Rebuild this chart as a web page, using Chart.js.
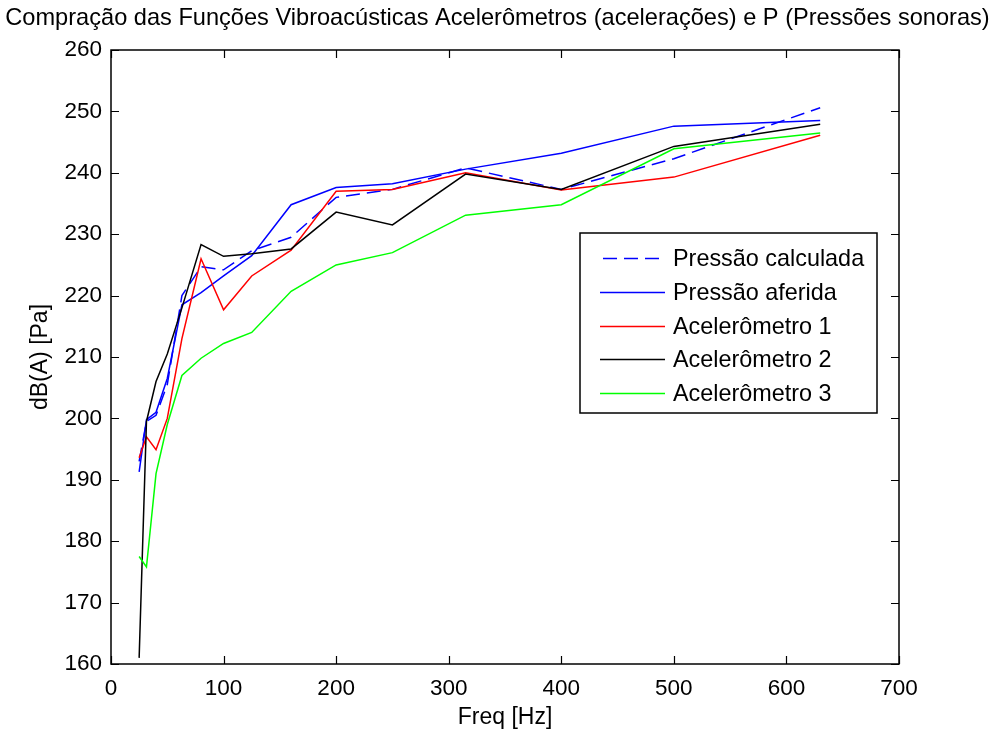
<!DOCTYPE html>
<html>
<head>
<meta charset="utf-8">
<script src="https://cdn.jsdelivr.net/npm/chart.js@4/dist/chart.umd.min.js"></script>
<style>
  html, body { margin: 0; padding: 0; background: #fff; }
  #wrap { width: 995px; height: 731px; }
</style>
</head>
<body>
<div id="wrap"><canvas id="myChart" width="995" height="731"></canvas></div>
<script>
// 1/3 octave band centre frequencies (Hz)
var freqs = [25, 31.5, 40, 50, 63, 80, 100, 125, 160, 200, 250, 315, 400, 500, 630];

// levels in dB(A)
var pressaoCalc = [193, 199.5, 200.5, 205.5, 220, 224.7, 224.2, 227.3, 229.5, 236, 237.3, 240.8, 237.3, 242.3, 250.6];
var pressaoAfer = [191.3, 199.8, 201, 206.5, 218.5, 220.5, 223.2, 226.5, 234.8, 237.6, 238.2, 240.6, 243.2, 247.6, 248.5];
var acel1 = [193.6, 197, 194.9, 200, 213, 226, 217.7, 223.2, 227.4, 237, 237.3, 240, 237.2, 239.3, 246.1];
var acel2 = [161, 199.5, 206, 210.5, 218, 228.3, 226.4, 226.8, 227.6, 233.6, 231.5, 239.8, 237.3, 244.3, 247.9];
var acel3 = [177.5, 175.8, 191, 199, 207, 209.8, 212.2, 214, 220.7, 225, 227, 233.1, 234.8, 243.9, 246.5];

var xTicks = [0, 100, 200, 300, 400, 500, 600, 700];
var yTicks = [160, 170, 180, 190, 200, 210, 220, 230, 240, 250, 260];

var titulo = 'Compração das Funções Vibroacústicas Acelerômetros (acelerações) e P (Pressões sonoras)';

var FONT = 'Liberation Sans, Arial, Helvetica, sans-serif';

function toPoints(vals) {
    var pts = [];
    for (var i in freqs) {
        pts.push({x: freqs[i], y: vals[i]});
    }
    return pts;
}

function serie(label, vals, color, dash, order) {
    return {
        label: label,
        data: toPoints(vals),
        borderColor: color,
        backgroundColor: color,
        borderWidth: 1.5,
        borderDash: dash,
        pointRadius: 0,
        tension: 0,
        fill: false,
        order: order
    };
}

// title centred over the whole figure, not only the plot
var figTitle = {
    id: 'figTitle',
    afterDraw: function(chart) {
        var ctx = chart.ctx;
        ctx.save();
        ctx.font = '23.6px ' + FONT;
        ctx.fillStyle = '#000';
        ctx.textAlign = 'center';
        ctx.textBaseline = 'middle';
        ctx.fillText(titulo, chart.width / 2, 18.5);
        ctx.restore();
    }
};

// box around the plot + inward ticks on all four sides
var axesBox = {
    id: 'axesBox',
    afterDraw: function(chart) {
        var ctx = chart.ctx;
        var a = chart.chartArea;
        var sx = chart.scales.x, sy = chart.scales.y;
        ctx.save();
        ctx.strokeStyle = '#000';
        ctx.lineWidth = 1.5;
        ctx.strokeRect(a.left, a.top, a.right - a.left, a.bottom - a.top);
        ctx.lineWidth = 1.2;
        ctx.beginPath();
        xTicks.forEach(function(v) {
            var px = Math.round(sx.getPixelForValue(v)) + 0.5;
            ctx.moveTo(px, a.bottom); ctx.lineTo(px, a.bottom - 8);
            ctx.moveTo(px, a.top); ctx.lineTo(px, a.top + 8);
        });
        yTicks.forEach(function(v) {
            var py = Math.round(sy.getPixelForValue(v)) + 0.5;
            ctx.moveTo(a.left, py); ctx.lineTo(a.left + 8, py);
            ctx.moveTo(a.right, py); ctx.lineTo(a.right - 8, py);
        });
        ctx.stroke();
        ctx.restore();
    }
};

// legend drawn inside the axes, on the right
var boxLegend = {
    id: 'boxLegend',
    afterDraw: function(chart) {
        var ctx = chart.ctx;
        var x0 = 580, y0 = 233, w = 297, h = 180;
        ctx.save();
        ctx.fillStyle = '#fff';
        ctx.fillRect(x0, y0, w, h);
        ctx.strokeStyle = '#000';
        ctx.lineWidth = 1.5;
        ctx.strokeRect(x0, y0, w, h);
        ctx.font = '23.4px ' + FONT;
        ctx.textBaseline = 'middle';
        ctx.textAlign = 'left';
        chart.data.datasets.forEach(function(ds, i) {
            var y = Math.round(y0 + 25 + i * 33.8) + 0.5;
            ctx.strokeStyle = ds.borderColor;
            ctx.lineWidth = 1.5;
            ctx.setLineDash(ds.borderDash || []);
            ctx.beginPath();
            ctx.moveTo(ds.borderDash && ds.borderDash.length ? 603 : 600, y);
            ctx.lineTo(665, y);
            ctx.stroke();
            ctx.setLineDash([]);
            ctx.fillStyle = '#000';
            ctx.fillText(ds.label, 673, y + 1);
        });
        ctx.restore();
    }
};

window.onload = () => {
    var ctx = document.getElementById('myChart').getContext('2d');
    var myChart = new Chart(ctx, {
        type: 'line',
        data: {
            datasets: [
                serie('Pressão calculada', pressaoCalc, '#0000ff', [14, 7], 5),
                serie('Pressão aferida', pressaoAfer, '#0000ff', [], 4),
                serie('Acelerômetro 1', acel1, '#ff0000', [], 3),
                serie('Acelerômetro 2', acel2, '#000000', [], 2),
                serie('Acelerômetro 3', acel3, '#00ff00', [], 1)
            ]
        },
        options: {
            responsive: false,
            animation: false,
            layout: { padding: { left: 0, right: 96, top: 50, bottom: 0 } },
            plugins: {
                legend: { display: false },
                tooltip: { enabled: false },
                title: { display: false }
            },
            scales: {
                x: {
                    type: 'linear',
                    min: 0,
                    max: 700,
                    afterBuildTicks: function(s) { s.ticks = xTicks.map(v => ({value: v})); },
                    afterFit: function(s) { s.height = 67; },
                    grid: { display: false, drawTicks: false },
                    border: { display: false },
                    ticks: { color: '#000', padding: 11, maxRotation: 0, font: { family: FONT, size: 22.5 } },
                    title: { display: true, text: 'Freq [Hz]', color: '#000', font: { family: FONT, size: 23 }, padding: { top: 0, bottom: 0 } }
                },
                y: {
                    type: 'linear',
                    min: 160,
                    max: 260,
                    afterBuildTicks: function(s) { s.ticks = yTicks.map(v => ({value: v})); },
                    afterFit: function(s) { s.width = 111; },
                    grid: { display: false, drawTicks: false },
                    border: { display: false },
                    ticks: { color: '#000', padding: 9, font: { family: FONT, size: 22.5 } },
                    title: { display: true, text: 'dB(A) [Pa]', color: '#000', font: { family: FONT, size: 23 }, padding: { top: 27, bottom: 0 } }
                }
            }
        },
        plugins: [figTitle, axesBox, boxLegend]
    });
};
</script>
</body>
</html>
